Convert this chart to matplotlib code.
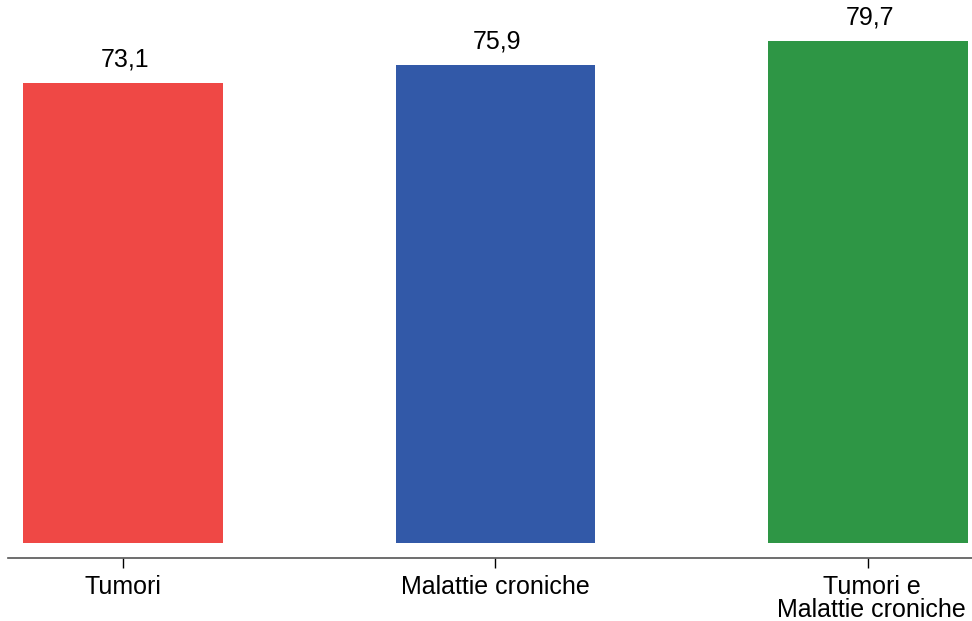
import matplotlib
matplotlib.use("Agg")
import matplotlib.pyplot as plt
import matplotlib.transforms as mtransforms

categories = ["Tumori", "Malattie croniche", "Tumori e\nMalattie croniche"]
values = [73.1, 75.9, 79.7]
value_labels = ["73,1", "75,9", "79,7"]
colors = ["#EF4845", "#3259A8", "#2E9645"]

plt.rcParams['font.family'] = ['Liberation Sans', 'DejaVu Sans']

fig = plt.figure(figsize=(9.72, 6.21), dpi=100)
ax = fig.add_axes([0.0, 1 - 558 / 621, 1.0, 558 / 621])

x = list(range(len(categories)))
ax.bar(x, values, width=0.536, color=colors, edgecolor='none')

for xi, v, lab in zip(x, values, value_labels):
    ax.annotate(lab, (xi, v), xytext=(1.5, 8), textcoords='offset points',
                ha='center', va='bottom', fontsize=18, color='black')

ax.set_xlim(-0.33, 2.28)
ax.set_ylim(-2.4, 86.2)
ax.set_xticks(x)
ax.set_xticklabels(categories, fontsize=18, linespacing=0.95)
ax.set_yticks([])
for s in ['top', 'right', 'left']:
    ax.spines[s].set_visible(False)
ax.spines['bottom'].set_color('#555555')
ax.spines['bottom'].set_linewidth(1.2)
ax.spines['bottom'].set_bounds(-0.308, 2.28)
ax.tick_params(axis='x', length=7, width=1, color='black', pad=5)

labels = ax.get_xticklabels()
offset = mtransforms.ScaledTranslation(4 / 100, 0, fig.dpi_scale_trans)
labels[2].set_transform(labels[2].get_transform() + offset)

fig.savefig("out.png", dpi=100)
